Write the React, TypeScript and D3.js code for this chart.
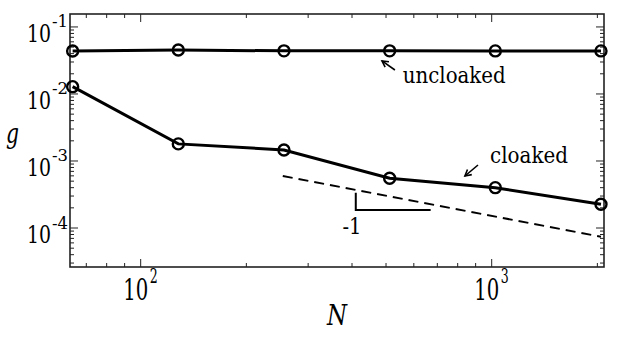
import React from "react";
import * as d3 from "d3";

const N_VALUES = [64, 128, 256, 512, 1024, 2048];
const UNCLOAKED = [0.0438, 0.0452, 0.0440, 0.0440, 0.0439, 0.0439];
const CLOAKED = [0.01285, 0.0018, 0.00146, 0.000552, 0.000400, 0.000226];
const REF_LINE_N = [254, 2048];
const REF_LINE_G = [0.000597, 0.0000741];
const X_MAJOR = [100, 1000];
const X_MAJOR_EXP = ["2", "3"];
const Y_MAJOR = [0.1, 0.01, 0.001, 0.0001];
const Y_MAJOR_EXP = ["-1", "-2", "-3", "-4"];
const X_DOMAIN = [62.9, 2089];
const Y_DOMAIN = [2.62e-5, 0.156];
const TRI_N = [410, 410, 670];
const TRI_G = [3.37e-4, 1.86e-4, 1.86e-4];
const TRI_LABEL = { n: 400, text: "-1" };
const ANNOTATIONS = [
  { text: "uncloaked", n: 558, g: 0.0146, tailN: 530, tailG: 0.0228, headN: 487, headG: 0.0311 },
  { text: "cloaked", n: 989, g: 9.44e-4, tailN: 914, tailG: 8.71e-4, headN: 839, headG: 5.97e-4 },
];

const W = 627, H = 345;
const M = { left: 70, right: 604, top: 14, bottom: 267 };
const FONT = "'DejaVu Serif', serif";

function minorTicks(lo: number, hi: number) {
  const out: number[] = [];
  for (let e = Math.floor(Math.log10(lo)); e <= Math.ceil(Math.log10(hi)); e++) {
    for (let m = 2; m <= 9; m++) {
      const v = m * Math.pow(10, e);
      if (v > lo && v < hi) out.push(v);
    }
  }
  return out;
}

export default function App() {
  const x = d3.scaleLog().domain(X_DOMAIN).range([M.left, M.right]);
  const y = d3.scaleLog().domain(Y_DOMAIN).range([M.bottom, M.top]);
  const line = d3
    .line<[number, number]>()
    .x((d) => x(d[0]))
    .y((d) => y(d[1]));
  const unc = N_VALUES.map((n, i) => [n, UNCLOAKED[i]] as [number, number]);
  const clo = N_VALUES.map((n, i) => [n, CLOAKED[i]] as [number, number]);
  const ref = REF_LINE_N.map((n, i) => [n, REF_LINE_G[i]] as [number, number]);
  const tri = TRI_N.map((n, i) => [n, TRI_G[i]] as [number, number]);
  const xMinor = minorTicks(X_DOMAIN[0], X_DOMAIN[1]);
  const yMinor = minorTicks(Y_DOMAIN[0], Y_DOMAIN[1]);
  const frame = "#222";
  const fit = { lengthAdjust: "spacingAndGlyphs" } as any;

  const arrow = (a: typeof ANNOTATIONS[number], key: string) => {
    const tx = x(a.tailN), ty = y(a.tailG), hx = x(a.headN), hy = y(a.headG);
    const ang = Math.atan2(ty - hy, tx - hx);
    const L = 7, spread = 0.5;
    const p1 = [hx + L * Math.cos(ang + spread), hy + L * Math.sin(ang + spread)];
    const p2 = [hx + L * Math.cos(ang - spread), hy + L * Math.sin(ang - spread)];
    return (
      <g key={key} stroke="#000" strokeWidth={1.6} fill="none">
        <line x1={tx} y1={ty} x2={hx} y2={hy} />
        <polyline points={`${p1[0]},${p1[1]} ${hx},${hy} ${p2[0]},${p2[1]}`} />
      </g>
    );
  };

  return (
    <svg
      width={W}
      height={H}
      style={{ position: "fixed", left: 0, top: 0, background: "#fff", fontFamily: FONT }}
    >
      <rect x={0} y={0} width={W} height={H} fill="#fff" />
      <g stroke={frame} strokeWidth={1}>
        {X_MAJOR.map((v) => (
          <g key={"xm" + v}>
            <line x1={x(v)} x2={x(v)} y1={M.bottom} y2={M.bottom - 8} />
            <line x1={x(v)} x2={x(v)} y1={M.top} y2={M.top + 8} />
          </g>
        ))}
        {xMinor.map((v) => (
          <g key={"xn" + v}>
            <line x1={x(v)} x2={x(v)} y1={M.bottom} y2={M.bottom - 4} />
            <line x1={x(v)} x2={x(v)} y1={M.top} y2={M.top + 4} />
          </g>
        ))}
        {Y_MAJOR.map((v) => (
          <g key={"ym" + v}>
            <line x1={M.left} x2={M.left + 8} y1={y(v)} y2={y(v)} />
            <line x1={M.right} x2={M.right - 8} y1={y(v)} y2={y(v)} />
          </g>
        ))}
        {yMinor.map((v) => (
          <g key={"yn" + v}>
            <line x1={M.left} x2={M.left + 4} y1={y(v)} y2={y(v)} />
            <line x1={M.right} x2={M.right - 4} y1={y(v)} y2={y(v)} />
          </g>
        ))}
      </g>
      <rect
        x={M.left}
        y={M.top}
        width={M.right - M.left}
        height={M.bottom - M.top}
        fill="none"
        stroke={frame}
        strokeWidth={1.6}
      />
      {Y_MAJOR.map((v, i) => (
        <text key={"yl" + v}>
          <tspan x={27} y={y(v) + 15} fontSize={25} textLength={24} {...fit}>10</tspan>
          <tspan x={52} y={y(v) + 0.5} fontSize={17} textLength={16} {...fit}>{Y_MAJOR_EXP[i]}</tspan>
        </text>
      ))}
      {X_MAJOR.map((v, i) => (
        <text key={"xl" + v}>
          <tspan x={x(v) - 17.5} y={300} fontSize={29} textLength={25} {...fit}>10</tspan>
          <tspan x={x(v) + 9} y={283} fontSize={21} textLength={8} {...fit}>{X_MAJOR_EXP[i]}</tspan>
        </text>
      ))}
      <text x={327} y={325} fontSize={27} fontStyle="italic" textLength={20} {...fit}>N</text>
      <text x={6} y={143} fontSize={28} fontStyle="italic" textLength={13} {...fit}>g</text>
      <path d={line(ref) || ""} fill="none" stroke="#000" strokeWidth={2} strokeDasharray="10,6" />
      <path d={line(tri) || ""} fill="none" stroke="#000" strokeWidth={2} />
      <text x={x(TRI_LABEL.n) - 9.5} y={234} fontSize={22} textLength={19} {...fit}>{TRI_LABEL.text}</text>
      <path d={line(unc) || ""} fill="none" stroke="#000" strokeWidth={3} />
      <path d={line(clo) || ""} fill="none" stroke="#000" strokeWidth={3} />
      {[...unc, ...clo].map((d, i) => (
        <circle key={"c" + i} cx={x(d[0])} cy={y(d[1])} r={5.5} fill="none" stroke="#000" strokeWidth={2.4} />
      ))}
      {ANNOTATIONS.map((a) => (
        <text
          key={a.text}
          x={x(a.n)}
          y={y(a.g)}
          fontSize={22}
          textLength={a.text === "uncloaked" ? 103 : 78}
          {...fit}
        >
          {a.text}
        </text>
      ))}
      {ANNOTATIONS.map((a) => arrow(a, "ar" + a.text))}
    </svg>
  );
}
